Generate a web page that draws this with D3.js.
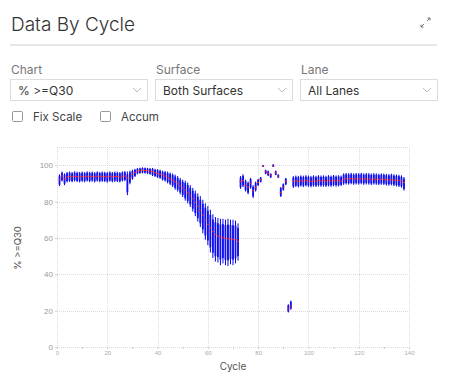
<!DOCTYPE html>
<html>
<head>
<meta charset="utf-8">
<script src="https://cdn.jsdelivr.net/npm/d3@7"></script>
<style>
  body { margin: 0; background: #fff; }
  svg { display: block; font-family: Inter, "Open Sans", sans-serif; }
</style>
</head>
<body>
<div id="canvas"></div>
<script>
// cycle numbers (x categories)
const cycles = d3.range(1, 139);

// mean %>=Q30 per cycle
const means = [
  92, 94, 92.5, 93.5, 93.8, 93.6, 93.9, 93.7, 93.5, 93.8, 93.6, 93.9, 93.7, 93.8, 93.5, 93.9, 93.6, 93.8, 93.7, 93.5, 93.9, 93.6, 93.8, 93.7, 93.5, 93.9, 94,
  93, 93, 95, 96, 96.8, 97, 97.2, 97.1, 97, 96.8,
  96.5, 96, 95.5, 95, 94.5, 94, 93.3, 92.5, 91.7, 90.8, 89.8, 88.7, 87.5, 86.2, 84.8, 83.2, 81.5, 79.5, 77.3, 75, 72.5, 70, 67.5, 65.5, 63.5, 62, 61, 60.5, 60, 59.8, 59.5, 59.5, 59.3, 59, 58,
  91, 91.5, 89, 88, 90, 86, 88, 90.5, 92, 99.5, 96.5, 95.5, 94.5, 99.5, 96, 94, 85, 88, 91, 21, 22.5,
  91, 91.3, 91.1, 91.4, 91.2, 91.5, 91.3, 91.1, 91.4, 91.2, 91.5, 91.3, 91.4, 91.2, 91.5, 91.3, 91.6, 91.4, 91.5, 91.2,
  92.3, 92.5, 92.4, 92.6, 92.3, 92.5, 92.4, 92.6, 92.3, 92.5, 92.4, 92.2, 92.4, 92.3, 92.1, 92.3, 92.2,
  92, 91.9, 92.1, 91.8, 91.7, 91.5, 91.2, 90.5
];

// lowest tile value per cycle
const lows = [
  88.5, 91, 89, 90.5, 90.8, 90.6, 91, 90.7, 90.5, 90.8, 90.6, 91, 90.7, 90.9, 90.5, 91, 90.6, 90.8, 90.7, 90.4, 90.9, 90.6, 90.8, 90.7, 90.5, 91, 91.2,
  83.5, 89.5, 92, 93.5, 95, 95.3, 95.5, 95.4, 95.2, 94.8,
  94, 93.5, 93, 92.5, 91.5, 91, 90, 89, 88, 86.5, 85.5, 84, 82.5, 80.5, 79, 77, 74.5, 72, 69, 66, 62.5, 59, 56, 52, 49, 47, 46.5, 45, 46, 45, 44.5, 45.5, 45, 46, 47.5,
  87, 88, 85.5, 84, 87, 82, 85.5, 88.5, 90.5, 99, 95, 94, 93, 99, 94.5, 93, 82.5, 86, 89, 19, 20.5,
  87.5, 88, 87.8, 88.2, 88, 88.3, 88.1, 87.8, 88.2, 88, 88.3, 88.1, 88.2, 88, 88.3, 88.1, 88.4, 88.2, 88.3, 88.5,
  89.2, 89.4, 89.3, 89.5, 89.2, 89.4, 89.3, 89.5, 89.2, 89.4, 89.3, 89.1, 89.3, 89.2, 89, 89.2, 89.1,
  88.8, 88.7, 88.9, 88.5, 88.3, 88, 87.6, 86
];

// highest tile value per cycle
const highs = [
  95, 96.5, 95.5, 96.3, 96.5, 96.2, 96.6, 96.4, 96.3, 96.5, 96.2, 96.6, 96.4, 96.5, 96.2, 96.6, 96.3, 96.5, 96.4, 96.2, 96.6, 96.3, 96.5, 96.4, 96.2, 96.6, 96.8,
  96.5, 97, 97.5, 98, 98.4, 98.6, 98.8, 98.7, 98.5, 98.4,
  98.5, 98, 97.8, 97.5, 97, 96.8, 96.5, 96, 95.5, 94.8, 94, 93, 92, 91.5, 90.5, 89, 87.5, 86, 84.5, 83, 81, 79, 77.5, 75.5, 73, 71.5, 71, 70.5, 70.5, 70, 70.5, 70, 70, 69.5, 68,
  94, 95, 92, 91, 93, 89, 91, 92.5, 93.5, 100, 97.5, 97, 95.5, 100.5, 97, 95, 88, 90, 93, 23.5, 25.5,
  94, 94.3, 94.1, 94.4, 94.2, 94.5, 94.3, 94.1, 94.4, 94.2, 94.5, 94.3, 94.4, 94.2, 94.5, 94.3, 94.6, 94.4, 94.5, 94.3,
  95.5, 95.7, 95.6, 95.8, 95.5, 95.7, 95.6, 95.8, 95.5, 95.7, 95.6, 95.4, 95.6, 95.5, 95.3, 95.5, 95.4,
  95.2, 95.1, 95.3, 95, 94.9, 94.7, 94.4, 93.5
];

const xTicks = [0, 20, 40, 60, 80, 100, 120, 140];
const yTicks = [0, 20, 40, 60, 80, 100];
const selectLabels = ["Chart", "Surface", "Lane"];
const selectValues = ["% >=Q30", "Both Surfaces", "All Lanes"];
const checkLabels = ["Fix Scale", "Accum"];

const data = cycles.map((c, i) => ({ cycle: c, mean: means[i], lo: lows[i], hi: highs[i] }));

let svg = d3.select("#canvas")
  .append("svg")
  .attr("width", 457)
  .attr("height", 377);

// ---- header ----
svg.append("text")
  .attr("x", 11).attr("y", 31)
  .style("font-size", "19px").style("font-weight", 300)
  .attr("fill", "#333")
  .text("Data By Cycle");

// expand icon
let icon = svg.append("g").attr("stroke", "#666").attr("stroke-width", 0.9).attr("fill", "none");
icon.append("path").attr("d", "M421,27 L424,24 M421,24.5 L421,27 L423.5,27");
icon.append("path").attr("d", "M430,18 L427,21 M427.5,18 L430,18 L430,20.5");

svg.append("line")
  .attr("x1", 10).attr("x2", 437).attr("y1", 45).attr("y2", 45)
  .attr("stroke", "#d5cdd0").attr("stroke-width", 1);

// select boxes
const selX = [10, 155, 300];
selX.forEach((x, i) => {
  svg.append("text").attr("x", x + 1).attr("y", 74)
    .style("font-size", "12px").attr("fill", "#777").text(selectLabels[i]);
  svg.append("rect").attr("x", x + 0.5).attr("y", 79.5).attr("width", 137).attr("height", 21)
    .attr("fill", "#fff").attr("stroke", "#dcdcdc");
  svg.append("text").attr("x", x + 8).attr("y", 94.5)
    .style("font-size", "12px").attr("fill", "#333").text(selectValues[i]);
  svg.append("path").attr("d", "M" + (x + 123) + ",88 l4,4 l4,-4")
    .attr("fill", "none").attr("stroke", "#aaa").attr("stroke-width", 0.8);
});

// checkboxes
const chkX = [12, 100];
chkX.forEach((x, i) => {
  svg.append("rect").attr("x", x + 0.5).attr("y", 111.5).attr("width", 10).attr("height", 10)
    .attr("rx", 1).attr("fill", "#fff").attr("stroke", "#999");
  svg.append("text").attr("x", x + 21).attr("y", 121)
    .style("font-size", "11.5px").attr("fill", "#444").text(checkLabels[i]);
});

// ---- chart ----
const plot = { left: 57, right: 409, top: 147, bottom: 347 };

let xScale = d3.scaleLinear().domain([0, 140]).range([plot.left, plot.right]);
let yScale = d3.scaleLinear().domain([0, 110]).range([plot.bottom, plot.top]);

const gridColor = "#e2d6df";
let grid = svg.append("g").attr("stroke", gridColor).attr("stroke-dasharray", "1,1").attr("stroke-width", 1);

grid.selectAll(".vg").data(xTicks).enter().append("line")
  .attr("x1", d => Math.round(xScale(d)) + 0.5).attr("x2", d => Math.round(xScale(d)) + 0.5)
  .attr("y1", plot.top).attr("y2", plot.bottom);

grid.selectAll(".hg").data(yTicks.concat([110])).enter().append("line")
  .attr("y1", d => Math.round(yScale(d)) + 0.5).attr("y2", d => Math.round(yScale(d)) + 0.5)
  .attr("x1", plot.left).attr("x2", plot.right);

// x axis ticks
let xAxis = svg.append("g")
  .attr("transform", "translate(0," + plot.bottom + ")")
  .call(d3.axisBottom(xScale).tickValues(xTicks).tickSize(2).tickPadding(2));
xAxis.select(".domain").remove();
xAxis.selectAll("line").attr("stroke", "#ccc");
xAxis.selectAll("text").attr("fill", "#aaa").style("font-size", "6px");

svg.append("g")
  .attr("transform", "translate(0," + plot.bottom + ")")
  .call(d3.axisBottom(xScale).tickValues([10, 30, 50, 70, 90, 110, 130]).tickSize(2).tickFormat(""))
  .call(g => g.select(".domain").remove())
  .selectAll("line").attr("stroke", "#ccc");

// y axis
let yAxis = svg.append("g")
  .attr("transform", "translate(" + plot.left + ",0)")
  .call(d3.axisLeft(yScale).tickValues(yTicks).tickSize(2).tickPadding(2));
yAxis.select(".domain").remove();
yAxis.selectAll("line").attr("stroke", "#ccc");
yAxis.selectAll("text").attr("fill", "#999").style("font-size", "8px");

// axis titles
svg.append("text")
  .attr("x", 233).attr("y", 370)
  .attr("text-anchor", "middle")
  .style("font-size", "10px").attr("fill", "#555")
  .text("Cycle");

svg.append("text")
  .attr("transform", "translate(21,248) rotate(-90)")
  .attr("text-anchor", "middle")
  .style("font-size", "9.5px").attr("fill", "#555")
  .text("% >=Q30");

// range bars
svg.selectAll(".whisker").data(data).enter().append("line")
  .attr("class", "whisker")
  .attr("x1", d => xScale(d.cycle)).attr("x2", d => xScale(d.cycle))
  .attr("y1", d => yScale(d.hi)).attr("y2", d => yScale(d.lo))
  .attr("stroke", "#0000ee").attr("stroke-width", 1);

svg.selectAll(".box").data(data).enter().append("rect")
  .attr("class", "box")
  .attr("x", d => xScale(d.cycle) - 0.9)
  .attr("width", 1.8)
  .attr("y", d => yScale(d.hi - (d.hi - d.lo) * 0.12))
  .attr("height", d => Math.max(1.5, yScale(d.lo + (d.hi - d.lo) * 0.12) - yScale(d.hi - (d.hi - d.lo) * 0.12)))
  .attr("fill", "#1010ee");

// mean markers
svg.selectAll(".mean").data(data).enter().append("rect")
  .attr("class", "mean")
  .attr("x", d => xScale(d.cycle) - 1)
  .attr("width", 2)
  .attr("y", d => yScale(d.mean) - 0.5)
  .attr("height", 1)
  .attr("fill", "#ff2020");
</script>
</body>
</html>
